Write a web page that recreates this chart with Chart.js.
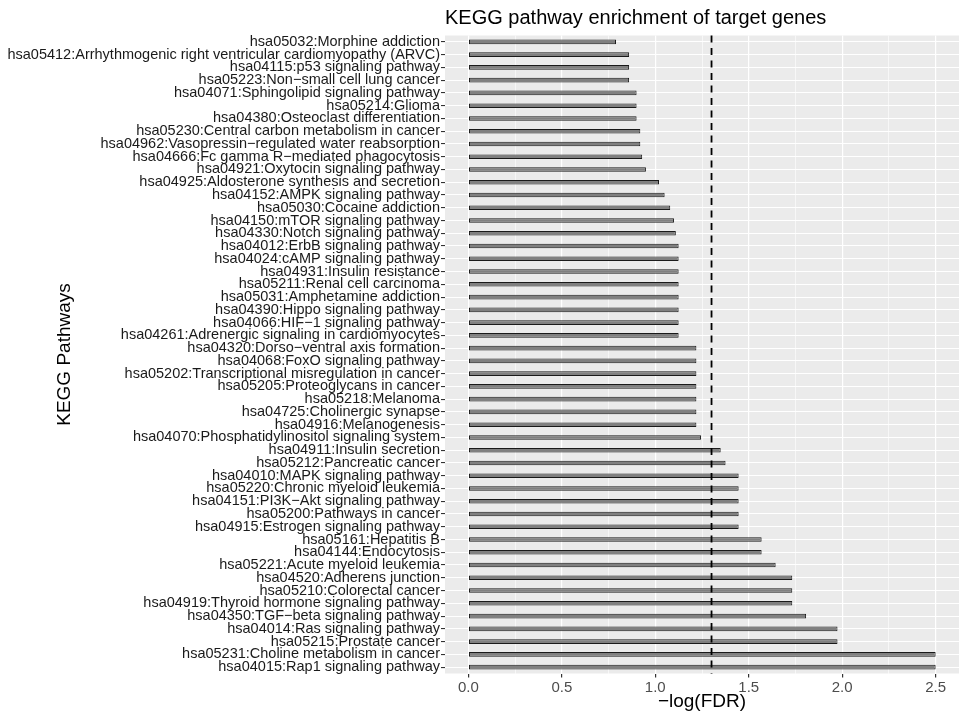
<!DOCTYPE html>
<html>
<head>
<meta charset="utf-8">
<script src="https://cdn.jsdelivr.net/npm/chart.js@4.4.1/dist/chart.umd.min.js"></script>
<style>
  body { margin: 0; background: #ffffff; }
  #wrap { width: 961px; height: 712px; }
</style>
</head>
<body>
<div id="wrap"><canvas id="keggChart" width="961" height="712"></canvas></div>
<script>
// pathways, top to bottom as in the figure
const pathways = [
  "hsa05032:Morphine addiction",
  "hsa05412:Arrhythmogenic right ventricular cardiomyopathy (ARVC)",
  "hsa04115:p53 signaling pathway",
  "hsa05223:Non\u2212small cell lung cancer",
  "hsa04071:Sphingolipid signaling pathway",
  "hsa05214:Glioma",
  "hsa04380:Osteoclast differentiation",
  "hsa05230:Central carbon metabolism in cancer",
  "hsa04962:Vasopressin\u2212regulated water reabsorption",
  "hsa04666:Fc gamma R\u2212mediated phagocytosis",
  "hsa04921:Oxytocin signaling pathway",
  "hsa04925:Aldosterone synthesis and secretion",
  "hsa04152:AMPK signaling pathway",
  "hsa05030:Cocaine addiction",
  "hsa04150:mTOR signaling pathway",
  "hsa04330:Notch signaling pathway",
  "hsa04012:ErbB signaling pathway",
  "hsa04024:cAMP signaling pathway",
  "hsa04931:Insulin resistance",
  "hsa05211:Renal cell carcinoma",
  "hsa05031:Amphetamine addiction",
  "hsa04390:Hippo signaling pathway",
  "hsa04066:HIF\u22121 signaling pathway",
  "hsa04261:Adrenergic signaling in cardiomyocytes",
  "hsa04320:Dorso\u2212ventral axis formation",
  "hsa04068:FoxO signaling pathway",
  "hsa05202:Transcriptional misregulation in cancer",
  "hsa05205:Proteoglycans in cancer",
  "hsa05218:Melanoma",
  "hsa04725:Cholinergic synapse",
  "hsa04916:Melanogenesis",
  "hsa04070:Phosphatidylinositol signaling system",
  "hsa04911:Insulin secretion",
  "hsa05212:Pancreatic cancer",
  "hsa04010:MAPK signaling pathway",
  "hsa05220:Chronic myeloid leukemia",
  "hsa04151:PI3K\u2212Akt signaling pathway",
  "hsa05200:Pathways in cancer",
  "hsa04915:Estrogen signaling pathway",
  "hsa05161:Hepatitis B",
  "hsa04144:Endocytosis",
  "hsa05221:Acute myeloid leukemia",
  "hsa04520:Adherens junction",
  "hsa05210:Colorectal cancer",
  "hsa04919:Thyroid hormone signaling pathway",
  "hsa04350:TGF\u2212beta signaling pathway",
  "hsa04014:Ras signaling pathway",
  "hsa05215:Prostate cancer",
  "hsa05231:Choline metabolism in cancer",
  "hsa04015:Rap1 signaling pathway"
];

// -log(FDR), same order
const negLogFdr = [
  0.79, 0.86, 0.86, 0.86, 0.90, 0.90, 0.90, 0.92, 0.92, 0.93,
  0.95, 1.02, 1.05, 1.08, 1.10, 1.11, 1.125, 1.125, 1.125, 1.125,
  1.125, 1.125, 1.125, 1.125, 1.22, 1.22, 1.22, 1.22, 1.22, 1.22,
  1.22, 1.245, 1.35, 1.376, 1.446, 1.446, 1.446, 1.446, 1.446, 1.569,
  1.569, 1.644, 1.733, 1.733, 1.733, 1.807, 1.975, 1.975, 2.50, 2.50
];

const xTickLabels = [0.0, 0.5, 1.0, 1.5, 2.0, 2.5];
const fdrCutoff = 1.301; // -log10(0.05)

// major ticks plus ggplot-style minor gridlines half way between
const xGridValues = [];
xTickLabels.forEach(function (v, i) {
  xGridValues.push(v);
  if (i < xTickLabels.length - 1) xGridValues.push((v + xTickLabels[i + 1]) / 2);
});
function isMajor(v) {
  return xTickLabels.some(function (t) { return Math.abs(t - v) < 1e-9; });
}

const FONT = "'Liberation Sans', Arial, Helvetica, sans-serif";

// grey panel behind the grid
const panelBg = {
  id: 'panelBg',
  beforeDraw(chart) {
    const a = chart.chartArea;
    const ctx = chart.ctx;
    ctx.save();
    ctx.fillStyle = '#ebebeb';
    ctx.fillRect(a.left, a.top, a.right - a.left, a.bottom - a.top);
    ctx.restore();
  }
};

// dashed cutoff line
const cutoffLine = {
  id: 'cutoffLine',
  afterDatasetsDraw(chart) {
    const a = chart.chartArea;
    const x = chart.scales.x.getPixelForValue(fdrCutoff);
    const ctx = chart.ctx;
    ctx.save();
    ctx.strokeStyle = '#000000';
    ctx.lineWidth = 1.8;
    ctx.setLineDash([7, 5.5]);
    ctx.beginPath();
    ctx.moveTo(x, a.top);
    ctx.lineTo(x, a.bottom);
    ctx.stroke();
    ctx.restore();
  }
};

const ctx = document.getElementById('keggChart').getContext('2d');
new Chart(ctx, {
  type: 'bar',
  data: {
    labels: pathways,
    datasets: [{
      data: negLogFdr,
      backgroundColor: '#808080',
      borderColor: '#1a1a1a',
      borderWidth: 1,
      borderSkipped: false,
      barPercentage: 0.36,
      categoryPercentage: 1.0
    }]
  },
  options: {
    indexAxis: 'y',
    responsive: false,
    animation: false,
    layout: { padding: { top: 0, right: 2, bottom: 0, left: 0 } },
    plugins: {
      legend: { display: false },
      tooltip: { enabled: false },
      title: {
        display: true,
        text: 'KEGG pathway enrichment of target genes',
        align: 'start',
        fullSize: false,
        color: '#000000',
        font: { family: FONT, size: 20, weight: 'normal' },
        padding: { top: 6, bottom: 5.5 }
      }
    },
    scales: {
      x: {
        type: 'linear',
        min: -0.125,
        max: 2.625,
        afterBuildTicks(axis) {
          axis.ticks = xGridValues.map(function (v) { return { value: v }; });
        },
        afterFit(axis) { axis.height = 38.5; },
        border: { display: false },
        grid: {
          color: '#ffffff',
          lineWidth: function (c) { return isMajor(c.tick.value) ? 1.2 : 0.6; },
          tickColor: function (c) { return isMajor(c.tick.value) ? '#333333' : 'rgba(0,0,0,0)'; },
          tickLength: 4,
          drawTicks: true
        },
        ticks: {
          autoSkip: false,
          maxRotation: 0,
          padding: 1,
          color: '#4d4d4d',
          font: { family: FONT, size: 15 },
          callback: function (v) { return isMajor(v) ? Number(v).toFixed(1) : ''; }
        },
        title: {
          display: true,
          text: '\u2212log(FDR)',
          color: '#000000',
          font: { family: FONT, size: 19 },
          padding: { top: 0, bottom: -1 }
        }
      },
      y: {
        offset: true,
        afterFit(axis) { axis.width = 445; },
        border: { display: false },
        grid: {
          offset: false,
          color: '#ffffff',
          lineWidth: 1.1,
          tickColor: '#333333',
          tickLength: 4,
          drawTicks: true
        },
        ticks: {
          autoSkip: false,
          padding: 1,
          color: '#1a1a1a',
          font: { family: FONT, size: 14.5 }
        },
        title: {
          display: true,
          text: 'KEGG Pathways',
          color: '#000000',
          font: { family: FONT, size: 19 },
          padding: { top: 53, bottom: 0 }
        }
      }
    }
  },
  plugins: [panelBg, cutoffLine]
});
</script>
</body>
</html>
